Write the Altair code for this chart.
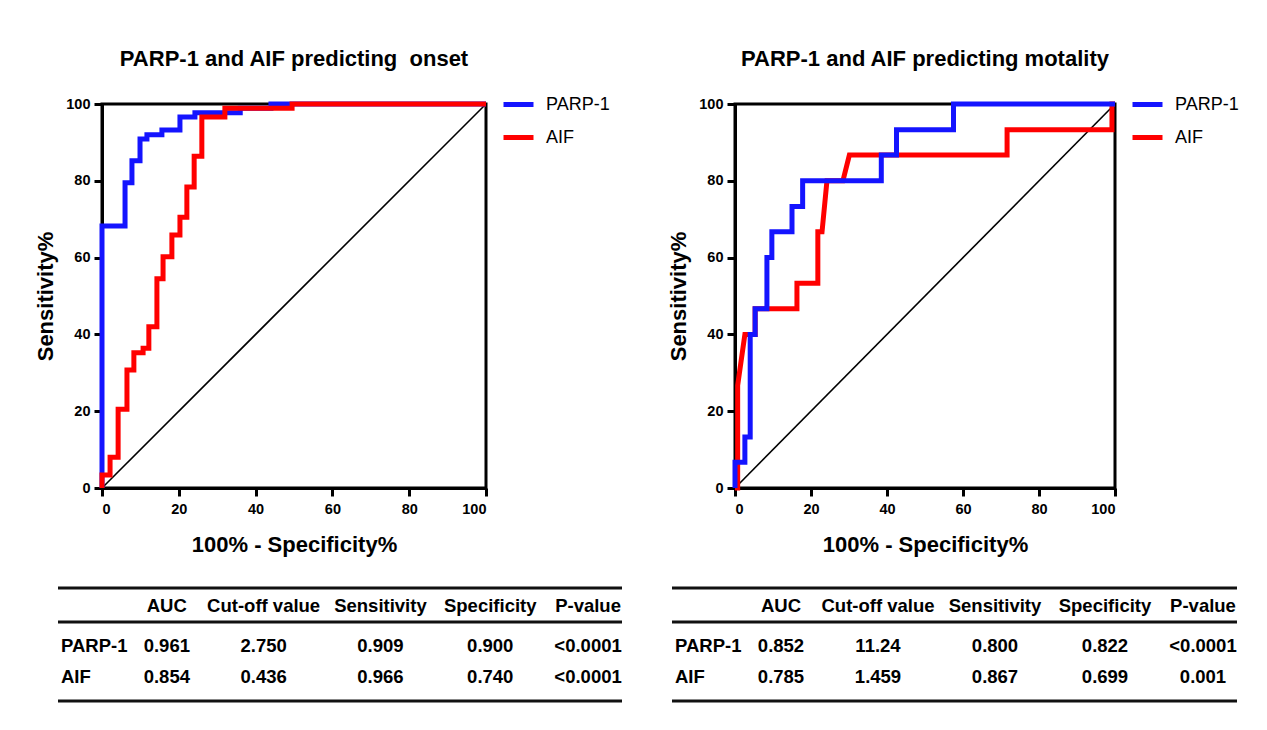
import altair as alt
import pandas as pd

FONT = "Liberation Sans"

# ---------------- data ----------------
series = ["PARP-1", "AIF"]
series_colors = ["#1414ff", "#ff0000"]

# ROC vertices (100% - Specificity%, Sensitivity%)
onset_parp_fpr = [0, 0, 6.0, 6.0, 7.8, 7.8, 9.9, 9.9, 11.7, 11.7, 15.6, 15.6, 20.3, 20.3,
                  24.2, 24.2, 36.0, 36.0, 44.0, 44.0, 100]
onset_parp_tpr = [0, 68.2, 68.2, 79.5, 79.5, 85.2, 85.2, 90.9, 90.9, 92.0, 92.0, 93.2, 93.2,
                  96.6, 96.6, 97.7, 97.7, 98.9, 98.9, 100, 100]
onset_aif_fpr = [0, 0, 2.1, 2.1, 4.2, 4.2, 6.5, 6.5, 8.3, 8.3, 10.7, 10.7, 12.2, 12.2, 14.3,
                 14.3, 15.9, 15.9, 18.2, 18.2, 20.3, 20.3, 22.1, 22.1, 24.0, 24.0, 26.0, 26.0,
                 32.0, 32.0, 49.5, 49.5, 100]
onset_aif_tpr = [0, 3.4, 3.4, 8.0, 8.0, 20.5, 20.5, 30.7, 30.7, 35.2, 35.2, 36.4, 36.4, 42.0,
                 42.0, 54.5, 54.5, 60.2, 60.2, 65.9, 65.9, 70.5, 70.5, 78.4, 78.4, 86.4, 86.4,
                 96.6, 96.6, 98.9, 98.9, 100, 100]

mort_parp_fpr = [0, 0, 2.6, 2.6, 4.0, 4.0, 5.3, 5.3, 8.4, 8.4, 9.7, 9.7, 15.0, 15.0, 17.8,
                 17.8, 38.5, 38.5, 42.5, 42.5, 57.5, 57.5, 100]
mort_parp_tpr = [0, 6.7, 6.7, 13.3, 13.3, 40.0, 40.0, 46.7, 46.7, 60.0, 60.0, 66.7, 66.7,
                 73.3, 73.3, 80.0, 80.0, 86.7, 86.7, 93.3, 93.3, 100, 100]
mort_aif_fpr = [0, 0.7, 0.7, 2.6, 5.3, 5.3, 16.3, 16.3, 21.8, 21.8, 22.9, 24.2, 28.4, 30.1,
                71.6, 71.6, 99.2, 99.2, 100]
mort_aif_tpr = [0, 0, 26.7, 40.0, 40.0, 46.7, 46.7, 53.3, 53.3, 66.7, 66.7, 80.0, 80.0, 86.7,
                86.7, 93.3, 93.3, 100, 100]

diag_vals = [0, 100]
axis_ticks = [0, 20, 40, 60, 80, 100]

# table contents
table_cols = ["AUC", "Cut-off value", "Sensitivity", "Specificity", "P-value"]
onset_auc = ["0.961", "0.854"]
onset_cutoff = ["2.750", "0.436"]
onset_sens = ["0.909", "0.966"]
onset_spec = ["0.900", "0.740"]
onset_p = ["<0.0001", "<0.0001"]
mort_auc = ["0.852", "0.785"]
mort_cutoff = ["11.24", "1.459"]
mort_sens = ["0.800", "0.867"]
mort_spec = ["0.822", "0.699"]
mort_p = ["<0.0001", "0.001"]

# ---------------- layout constants (table geometry) ----------------
TABLE_W_UNITS = 565
name_pos = 3
col_pos = [109, 206, 323, 433, 531]
row_pos = {"top": 0, "head": 18, "mid": 34, "r0": 58, "r1": 89, "bot": 113}
TABLE_H = 113


def roc_df(parp_fpr, parp_tpr, aif_fpr, aif_tpr):
    frames = []
    for name, fx, ty in [("PARP-1", parp_fpr, parp_tpr), ("AIF", aif_fpr, aif_tpr)]:
        frames.append(pd.DataFrame({"fpr": fx, "tpr": ty, "marker": name,
                                    "idx": list(range(len(fx)))}))
    return pd.concat(frames, ignore_index=True)


def roc_chart(df, title, width, draw_order):
    xenc = alt.X("fpr:Q", scale=alt.Scale(domain=[0, 100], nice=False),
                 axis=alt.Axis(values=axis_ticks, title="100% - Specificity%",
                               titlePadding=19, labelPadding=6))
    yenc = alt.Y("tpr:Q", scale=alt.Scale(domain=[0, 100], nice=False),
                 axis=alt.Axis(values=axis_ticks, title="Sensitivity%", titlePadding=8))
    diag = alt.Chart(pd.DataFrame({"fpr": diag_vals, "tpr": diag_vals})).mark_line(
        color="black", strokeWidth=1.6).encode(
        x=alt.X("fpr:Q", scale=alt.Scale(domain=[0, 100], nice=False)),
        y=alt.Y("tpr:Q", scale=alt.Scale(domain=[0, 100], nice=False)))
    color = alt.Color("marker:N", scale=alt.Scale(domain=series, range=series_colors),
                      legend=alt.Legend(title=None, orient="none", legendX=width + 15,
                                        legendY=-17, symbolType="stroke",
                                        symbolStrokeWidth=5, symbolSize=900,
                                        labelFontSize=18, labelFont=FONT, labelColor="black",
                                        labelOffset=10, rowPadding=5))
    layers = [diag]
    for s in draw_order:
        layers.append(alt.Chart(df).transform_filter(alt.datum.marker == s).mark_line(
            strokeWidth=5, strokeJoin="miter", strokeCap="butt").encode(
            x=xenc, y=yenc, color=color, order=alt.Order("idx:Q")))
    return alt.layer(*layers).properties(
        width=width, height=384,
        title=alt.TitleParams(title, anchor="middle", frame="group", offset=16),
        view=alt.ViewBackground(stroke="black", strokeWidth=3))


def table_chart(auc, cutoff, sens, spec, pval, width, xrange):
    cells = []
    for c, p in zip(table_cols, col_pos):
        cells.append({"t": c, "x": p, "y": row_pos["head"], "kind": "val"})
    for i, name in enumerate(series):
        ry = row_pos["r%d" % i]
        cells.append({"t": name, "x": name_pos, "y": ry, "kind": "name"})
        for vals, p in zip([auc, cutoff, sens, spec, pval], col_pos):
            cells.append({"t": vals[i], "x": p, "y": ry, "kind": "val"})
    cdf = pd.DataFrame(cells)
    rules = pd.DataFrame({"x0": [0, 0, 0], "x1": [TABLE_W_UNITS] * 3,
                          "y": [row_pos["top"], row_pos["mid"], row_pos["bot"]]})
    xs = alt.Scale(domain=[0, TABLE_W_UNITS], range=xrange, nice=False, zero=False)
    ys = alt.Scale(domain=[0, TABLE_H], range=[0, TABLE_H], nice=False, zero=False)
    rule = alt.Chart(rules).mark_rule(color="#111111", strokeWidth=3).encode(
        x=alt.X("x0:Q", scale=xs, axis=None), x2="x1:Q", y=alt.Y("y:Q", scale=ys, axis=None))
    names = alt.Chart(cdf).transform_filter(alt.datum.kind == "name").mark_text(
        align="left", baseline="middle", font=FONT, fontSize=18.5, fontWeight="bold",
        color="black").encode(x=alt.X("x:Q", scale=xs, axis=None),
                              y=alt.Y("y:Q", scale=ys, axis=None), text="t:N")
    vals = alt.Chart(cdf).transform_filter(alt.datum.kind == "val").mark_text(
        align="center", baseline="middle", font=FONT, fontSize=18.5, fontWeight="bold",
        color="black").encode(x=alt.X("x:Q", scale=xs, axis=None),
                              y=alt.Y("y:Q", scale=ys, axis=None), text="t:N")
    return alt.layer(rule, names, vals).properties(
        width=width, height=TABLE_H, view=alt.ViewBackground(strokeWidth=0))


roc_onset = roc_chart(roc_df(onset_parp_fpr, onset_parp_tpr, onset_aif_fpr, onset_aif_tpr),
                      "PARP-1 and AIF predicting \u00a0onset", 384, ["PARP-1", "AIF"])
roc_mort = roc_chart(roc_df(mort_parp_fpr, mort_parp_tpr, mort_aif_fpr, mort_aif_tpr),
                     "PARP-1 and AIF predicting motality", 380, ["AIF", "PARP-1"])
tab_onset = table_chart(onset_auc, onset_cutoff, onset_sens, onset_spec, onset_p, 384, [-44, 520])
tab_mort = table_chart(mort_auc, mort_cutoff, mort_sens, mort_spec, mort_p, 380, [-63, 502])

chart = alt.concat(roc_onset, roc_mort, tab_onset, tab_mort, columns=2, bounds="flush",
                   align="each", spacing={"row": 100, "column": 249}).resolve_scale(
    color="independent", x="independent", y="independent").properties(
    padding={"left": 25, "top": 38, "right": 5, "bottom": 5}
).configure_axis(
    domainColor="black", domainWidth=3, tickColor="black", tickWidth=3, tickSize=8,
    labelFont=FONT, labelFontWeight="bold", labelFontSize=14.5, labelColor="black",
    labelPadding=4, titleFont=FONT, titleFontSize=22, titleFontWeight="bold",
    titleColor="black", grid=False
).configure_title(font=FONT, fontSize=22, fontWeight="bold", color="black"
).configure_view(strokeWidth=0)

chart.save("out.html", embed_options={"renderer": "svg", "actions": False})
